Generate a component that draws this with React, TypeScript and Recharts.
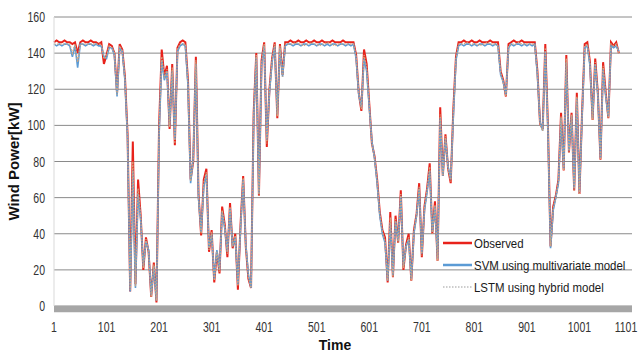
import React from 'react';
import { LineChart, Line, XAxis, YAxis, CartesianGrid, ReferenceArea } from 'recharts';

// sampled every 5 time steps, starting at t = 1
const observed = [
  146, 147, 146, 146, 147, 146, 146, 145, 146, 140,
  146, 147, 146, 146, 147, 146, 146, 145, 146, 134,
  139, 145, 144, 140, 118, 145, 142, 127, 95, 8,
  91, 12, 70, 50, 20, 38, 30, 5, 24, 2,
  100, 142, 127, 133, 98, 134, 89, 143, 146, 147,
  146, 125, 70, 80, 138, 62, 39, 70, 76, 30,
  42, 13, 30, 18, 55, 45, 27, 57, 32, 40,
  9, 45, 72, 33, 15, 10, 107, 140, 61, 136,
  146, 88, 120, 137, 146, 104, 145, 128, 146, 146,
  147, 146, 146, 147, 146, 146, 147, 146, 146, 147,
  146, 146, 147, 146, 146, 146, 147, 146, 146, 146,
  147, 146, 146, 146, 146, 139, 118, 108, 142, 134,
  112, 90, 83, 70, 52, 42, 38, 13, 52, 16,
  50, 35, 64, 20, 34, 40, 14, 42, 51, 68,
  27, 55, 65, 79, 40, 58, 25, 110, 72, 95,
  76, 68, 109, 138, 146, 146, 147, 146, 146, 147,
  146, 146, 147, 146, 146, 146, 147, 146, 146, 146,
  130, 125, 116, 145, 146, 147, 146, 146, 147, 146,
  146, 146, 146, 146, 130, 101, 98, 145, 100, 33,
  55, 61, 70, 107, 75, 139, 85, 107, 64, 118,
  62, 107, 145, 146, 135, 103, 137, 118, 81, 135,
  118, 104, 146, 144, 146, 140,
];

const svm = [
  145, 144, 145, 144, 145, 145, 144, 138, 144, 132,
  145, 145, 144, 145, 145, 144, 145, 144, 144, 138,
  137, 143, 143, 139, 116, 143, 141, 125, 93, 8,
  75, 10, 62, 48, 22, 36, 31, 6, 22, 3,
  95, 136, 125, 130, 100, 130, 92, 141, 144, 145,
  144, 122, 68, 82, 134, 60, 41, 66, 73, 32,
  40, 15, 31, 20, 52, 43, 30, 54, 33, 38,
  12, 43, 70, 34, 17, 10, 104, 138, 62, 133,
  144, 92, 118, 135, 144, 106, 143, 127, 144, 145,
  145, 144, 145, 145, 144, 145, 145, 144, 145, 145,
  144, 145, 145, 144, 145, 144, 145, 145, 144, 145,
  145, 144, 145, 144, 145, 137, 117, 110, 137, 130,
  110, 91, 82, 68, 50, 40, 35, 14, 46, 17,
  47, 36, 61, 22, 33, 37, 15, 40, 50, 65,
  29, 53, 63, 75, 41, 55, 26, 104, 72, 93,
  77, 70, 105, 136, 144, 145, 144, 145, 145, 144,
  145, 144, 145, 145, 144, 145, 145, 144, 145, 144,
  128, 124, 117, 143, 145, 144, 145, 145, 144, 145,
  144, 145, 144, 145, 128, 102, 97, 141, 98, 32,
  53, 60, 68, 104, 76, 135, 86, 105, 65, 115,
  63, 105, 143, 144, 133, 104, 134, 117, 82, 131,
  116, 105, 144, 143, 144, 141,
];

const lstm = [
  145, 145, 145, 145, 145, 145, 145, 140, 145, 135,
  145, 145, 145, 145, 145, 145, 145, 145, 145, 137,
  138, 144, 143, 140, 117, 144, 141, 126, 94, 9,
  80, 11, 65, 49, 21, 37, 30, 5, 23, 3,
  97, 138, 126, 131, 99, 132, 90, 142, 145, 145,
  145, 123, 69, 81, 136, 61, 40, 68, 74, 31,
  41, 14, 30, 19, 53, 44, 29, 55, 33, 39,
  11, 44, 71, 33, 16, 10, 105, 139, 61, 134,
  145, 90, 119, 136, 145, 105, 144, 127, 145, 145,
  145, 145, 146, 145, 145, 144, 145, 145, 146, 145,
  145, 144, 145, 145, 146, 145, 145, 144, 145, 145,
  145, 145, 145, 145, 145, 138, 118, 109, 139, 132,
  111, 90, 82, 69, 51, 41, 36, 14, 49, 16,
  48, 35, 62, 21, 33, 38, 14, 41, 50, 66,
  28, 54, 64, 77, 40, 56, 25, 106, 72, 94,
  76, 69, 107, 137, 145, 145, 145, 146, 145, 145,
  145, 145, 144, 145, 145, 146, 145, 145, 145, 144,
  129, 124, 116, 144, 145, 145, 145, 146, 145, 145,
  145, 145, 145, 145, 129, 101, 97, 143, 99, 33,
  54, 60, 69, 105, 75, 137, 85, 106, 64, 116,
  62, 106, 144, 145, 134, 103, 135, 117, 81, 133,
  117, 104, 145, 144, 145, 140,
];

const time = observed.map((_, i) => 1 + i * 5);
const xTicks = [1, 101, 201, 301, 401, 501, 601, 701, 801, 901, 1001, 1101];
const yTicks = [0, 20, 40, 60, 80, 100, 120, 140, 160];

const data = time.map((t, i) => ({ t, observed: observed[i], svm: svm[i], lstm: lstm[i] }));

const FONT = '"Liberation Sans", Arial, sans-serif';

const legendItems = [
  { name: 'Observed', color: '#e8221b', dash: undefined as string | undefined, width: 2.5 },
  { name: 'SVM using multivariate model', color: '#5b9bd5', dash: undefined, width: 2.5 },
  { name: 'LSTM using hybrid model', color: '#bdbdbd', dash: '1.5 1.5', width: 1.5 },
];

// narrow-looking tick labels: regular font squeezed horizontally
const XTick = ({ x, y, payload }: any) => {
  const last = payload.value === xTicks[xTicks.length - 1];
  return (
    <g transform={`translate(${last ? x - 6 : x},${y})`}>
      <text transform="scale(0.75,1)" textAnchor="middle" dy="0.75em" fontFamily={FONT} fontSize={14} fill="#333">
        {payload.value}
      </text>
    </g>
  );
};

const YTick = ({ x, y, payload }: any) => (
  <g transform={`translate(${x},${y})`}>
    <text transform="scale(0.75,1)" textAnchor="end" dy="0.36em" fontFamily={FONT} fontSize={14} fill="#333">
      {payload.value}
    </text>
  </g>
);

const LegendBox = () => (
  <div style={{ position: 'absolute', left: 443, top: 232, fontFamily: FONT, fontSize: 13, color: '#1a1a1a', whiteSpace: 'nowrap' }}>
    {legendItems.map((it) => (
      <div key={it.name} style={{ display: 'flex', alignItems: 'center', height: 22 }}>
        <svg width={29} height={6} style={{ marginRight: 2 }}>
          <line x1={0} y1={3} x2={29} y2={3} stroke={it.color} strokeWidth={it.width} strokeDasharray={it.dash} />
        </svg>
        <span style={{ display: 'inline-block', transform: 'scaleX(0.88)', transformOrigin: 'left center' }}>{it.name}</span>
      </div>
    ))}
  </div>
);

export default function App() {
  return (
    <div style={{ position: 'absolute', left: 0, top: 0, width: 638, height: 354, background: '#fff' }}>
      <LineChart width={638} height={354} data={data} margin={{ top: 17, right: 6, left: 20, bottom: 18 }}>
        <CartesianGrid horizontal vertical={false} stroke="#8a8a8a" strokeWidth={1} />
        <XAxis
          dataKey="t"
          type="number"
          domain={[1, 1101]}
          ticks={xTicks}
          interval={0}
          height={30}
          axisLine={false}
          tickLine={false}
          tickSize={0}
          tickMargin={15}
          tick={<XTick />}
          label={{ value: 'Time', position: 'bottom', offset: 4, dx: -8, style: { fontFamily: FONT, fontSize: 14, fontWeight: 'bold', fill: '#111' } }}
        />
        <YAxis
          domain={[0, 160]}
          ticks={yTicks}
          interval={0}
          width={34}
          axisLine={{ stroke: '#d9d9d9' }}
          tickLine={false}
          tickSize={0}
          tickMargin={9}
          tick={<YTick />}
          label={{ value: 'Wind Power[kW]', angle: -90, position: 'insideLeft', dx: -11, style: { textAnchor: 'middle', fontFamily: FONT, fontSize: 15, fontWeight: 'bold', fill: '#111' } }}
        />
        <ReferenceArea x1={1} x2={1101} y1={-3.4} y2={0} fill="#a6a6a6" fillOpacity={1} stroke="none" ifOverflow="visible" />
        <Line type="linear" dataKey="observed" stroke="#e8221b" strokeWidth={2} dot={false} isAnimationActive={false} />
        <Line type="linear" dataKey="svm" stroke="#5b9bd5" strokeWidth={1.6} dot={false} isAnimationActive={false} />
        <Line type="linear" dataKey="lstm" stroke="#d0a47e" strokeWidth={1.4} strokeDasharray="1.5 1.5" dot={false} isAnimationActive={false} />
      </LineChart>
      <LegendBox />
    </div>
  );
}
